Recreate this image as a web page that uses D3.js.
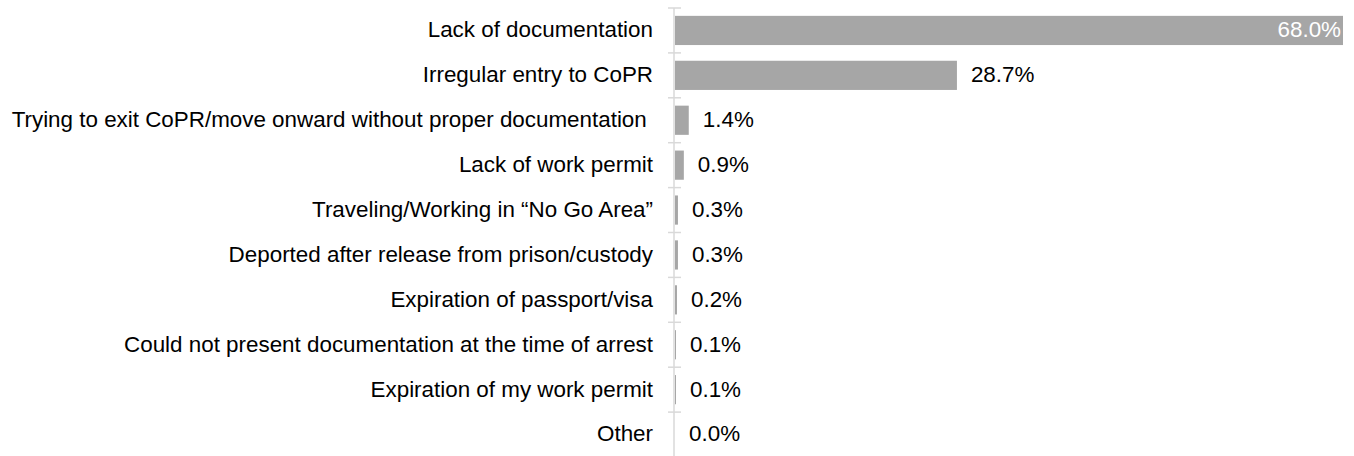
<!DOCTYPE html>
<html>
<head>
<meta charset="utf-8">
<script src="https://cdn.jsdelivr.net/npm/d3@7"></script>
<style>
  html, body { margin: 0; padding: 0; background: #fff; }
  svg { display: block; }
  text { font-family: "Liberation Sans", Arial, sans-serif; }
</style>
</head>
<body>
<svg id="chart" width="1354" height="456"></svg>
<script>
const categories = [
  "Lack of documentation",
  "Irregular entry to CoPR",
  "Trying to exit CoPR/move onward without proper documentation ",
  "Lack of work permit",
  "Traveling/Working in \u201cNo Go Area\u201d",
  "Deported after release from prison/custody",
  "Expiration of passport/visa",
  "Could not present documentation at the time of arrest",
  "Expiration of my work permit",
  "Other"
];
const values = [68.0, 28.7, 1.4, 0.9, 0.3, 0.3, 0.2, 0.1, 0.1, 0.0];
const valueLabels = ["68.0%", "28.7%", "1.4%", "0.9%", "0.3%", "0.3%", "0.2%", "0.1%", "0.1%", "0.0%"];

const svg = d3.select("#chart");
const x0 = 675, x1 = 1343, yTop = 8, band = 44.9;
const fs = 22.4;

const x = d3.scaleLinear().domain([0, 68.0]).range([x0, x1]);
const y = d3.scaleBand().domain(categories).range([yTop, yTop + band * categories.length])
  .paddingInner(0.35).paddingOuter(0.175);

// bars
svg.append("g").selectAll("rect").data(categories).join("rect")
  .attr("x", x(0))
  .attr("y", d => y(d))
  .attr("width", (d, i) => x(values[i]) - x(0))
  .attr("height", y.bandwidth())
  .attr("fill", "#a6a6a6");

// axis line and ticks
const axisX = 674;
const ag = svg.append("g");
ag.append("line").attr("x1", axisX).attr("x2", axisX)
  .attr("y1", yTop).attr("y2", yTop + band * categories.length)
  .attr("stroke", "#d9d9d9").attr("stroke-width", 1.5);
const tickYs = d3.range(categories.length + 1).map(i => yTop + band * i);
ag.selectAll("line.tick").data(tickYs).join("line").attr("class", "tick")
  .attr("x1", axisX - 6).attr("x2", axisX + 7)
  .attr("y1", d => d).attr("y2", d => d)
  .attr("stroke", "#d9d9d9").attr("stroke-width", 1.5);

// category labels
svg.append("g").selectAll("text").data(categories).join("text")
  .attr("x", 653)
  .attr("y", d => y(d) + y.bandwidth() / 2)
  .attr("dy", "0.31em")
  .attr("text-anchor", "end")
  .attr("font-size", fs)
  .style("white-space", "pre")
  .attr("fill", "#000")
  .text(d => d);

// value labels
svg.append("g").selectAll("text").data(categories).join("text")
  .attr("x", (d, i) => i === 0 ? x(values[i]) - 2 : x(values[i]) + 14)
  .attr("y", d => y(d) + y.bandwidth() / 2)
  .attr("dy", "0.31em")
  .attr("text-anchor", (d, i) => i === 0 ? "end" : "start")
  .attr("font-size", fs)
  .attr("fill", (d, i) => i === 0 ? "#fff" : "#000")
  .text((d, i) => valueLabels[i]);
</script>
</body>
</html>
